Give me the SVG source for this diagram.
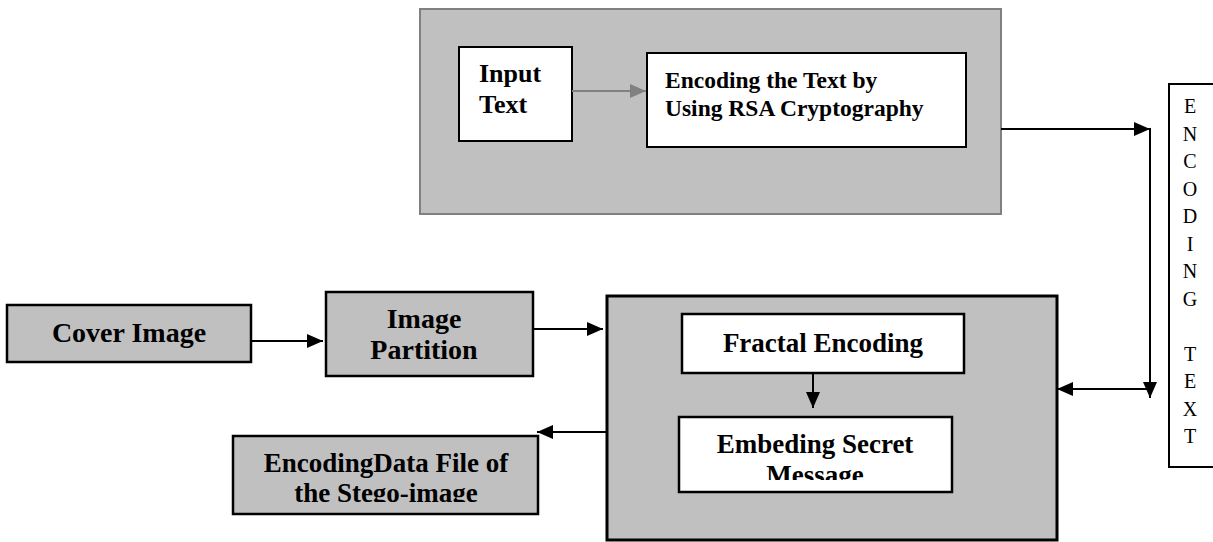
<svg xmlns="http://www.w3.org/2000/svg" width="1213" height="542" viewBox="0 0 1213 542">
<style>
.b{font-family:"Liberation Serif","Times New Roman",serif;font-weight:bold;fill:#000}
.r{font-family:"Liberation Serif","Times New Roman",serif;font-size:20px;fill:#000}
.g{fill:#c0c0c0;stroke:#000;stroke-width:2.5}
.w{fill:#fff;stroke:#000;stroke-width:2.5}
.c{stroke:#000;stroke-width:2;fill:none}
</style>
<defs>
<marker id="ah" markerUnits="userSpaceOnUse" markerWidth="16" markerHeight="16" viewBox="0 0 16 16" refX="16" refY="8" orient="auto"><path d="M0,1 L16,8 L0,15 Z" fill="#000"/></marker>
<marker id="ahg" markerUnits="userSpaceOnUse" markerWidth="16" markerHeight="16" viewBox="0 0 16 16" refX="16" refY="8" orient="auto"><path d="M0,1 L16,8 L0,15 Z" fill="#808080"/></marker>
<clipPath id="clipEmb"><rect x="679" y="417" width="273" height="63"/></clipPath>
<clipPath id="clipOut"><rect x="233" y="436" width="305" height="66"/></clipPath>
</defs>
<rect width="1213" height="542" fill="#fff"/>

<g id="encryption-stage">
<rect x="420" y="9" width="581" height="205" fill="#c0c0c0" stroke="#808080" stroke-width="2"/>
</g>
<g id="input-text">
<rect x="459" y="47" width="113" height="94" fill="#fff" stroke="#000" stroke-width="2"/>
<text class="b" font-size="26" x="479" y="82">Input</text>
<text class="b" font-size="26" x="479" y="113">Text</text>
</g>
<g id="rsa-encoding">
<rect x="647" y="53" width="319" height="94" fill="#fff" stroke="#000" stroke-width="2"/>
<text class="b" font-size="23.5" x="665" y="88">Encoding the Text by</text>
<text class="b" font-size="23.5" x="665" y="116">Using RSA Cryptography</text>
</g>
<g id="encoding-text">
<rect x="1169" y="84" width="60" height="383" fill="#fff" stroke="#000" stroke-width="2"/>
<g class="r" text-anchor="middle">
<text x="1190" y="113">E</text>
<text x="1190" y="140.5">N</text>
<text x="1190" y="168">C</text>
<text x="1190" y="195.5">O</text>
<text x="1190" y="223">D</text>
<text x="1190" y="250.5">I</text>
<text x="1190" y="278">N</text>
<text x="1190" y="305.5">G</text>
<text x="1190" y="360.5">T</text>
<text x="1190" y="388">E</text>
<text x="1190" y="415.5">X</text>
<text x="1190" y="443">T</text>
</g>
</g>
<g id="cover-image">
<rect class="g" x="7" y="305" width="244" height="57"/>
<text class="b" font-size="28" x="129" y="342" text-anchor="middle">Cover Image</text>
</g>
<g id="image-partition">
<rect class="g" x="326" y="292" width="207" height="84"/>
<text class="b" font-size="28" x="424" y="328" text-anchor="middle">Image</text>
<text class="b" font-size="28" x="424" y="359" text-anchor="middle">Partition</text>
</g>
<g id="embedding-stage">
<rect x="607" y="296" width="450" height="244" fill="#c0c0c0" stroke="#000" stroke-width="3"/>
</g>
<g id="fractal-encoding">
<rect class="w" x="682" y="314" width="282" height="59" stroke-width="3"/>
<text class="b" font-size="27" x="823" y="352" text-anchor="middle">Fractal Encoding</text>
</g>
<g id="embeding-secret">
<rect class="w" x="679" y="417" width="273" height="75" stroke-width="3"/>
<g clip-path="url(#clipEmb)">
<text class="b" font-size="27" x="815" y="453" text-anchor="middle">Embeding Secret</text>
<text class="b" font-size="27" x="815" y="484" text-anchor="middle">Message</text>
</g>
</g>
<g id="stego-output">
<rect class="g" x="233" y="436" width="305" height="78"/>
<g clip-path="url(#clipOut)">
<text class="b" font-size="27" x="386" y="472" text-anchor="middle">EncodingData File of</text>
<text class="b" font-size="27" x="386" y="502" text-anchor="middle">the Stego-image</text>
</g>
</g>

<g id="connectors">
<line x1="572" y1="91" x2="646" y2="91" stroke="#808080" stroke-width="2" marker-end="url(#ahg)"/>
<line class="c" x1="1001" y1="129" x2="1150" y2="129" marker-end="url(#ah)"/>
<line class="c" x1="1150" y1="128" x2="1150" y2="398" marker-end="url(#ah)"/>
<line class="c" x1="1150" y1="389" x2="1057" y2="389" marker-end="url(#ah)"/>
<line class="c" x1="251" y1="341" x2="323" y2="341" marker-end="url(#ah)"/>
<line class="c" x1="533" y1="329" x2="603" y2="329" marker-end="url(#ah)"/>
<line class="c" x1="607" y1="432" x2="537" y2="432" marker-end="url(#ah)"/>
<line class="c" x1="813" y1="373" x2="813" y2="408" marker-end="url(#ah)"/>
</g>
</svg>
